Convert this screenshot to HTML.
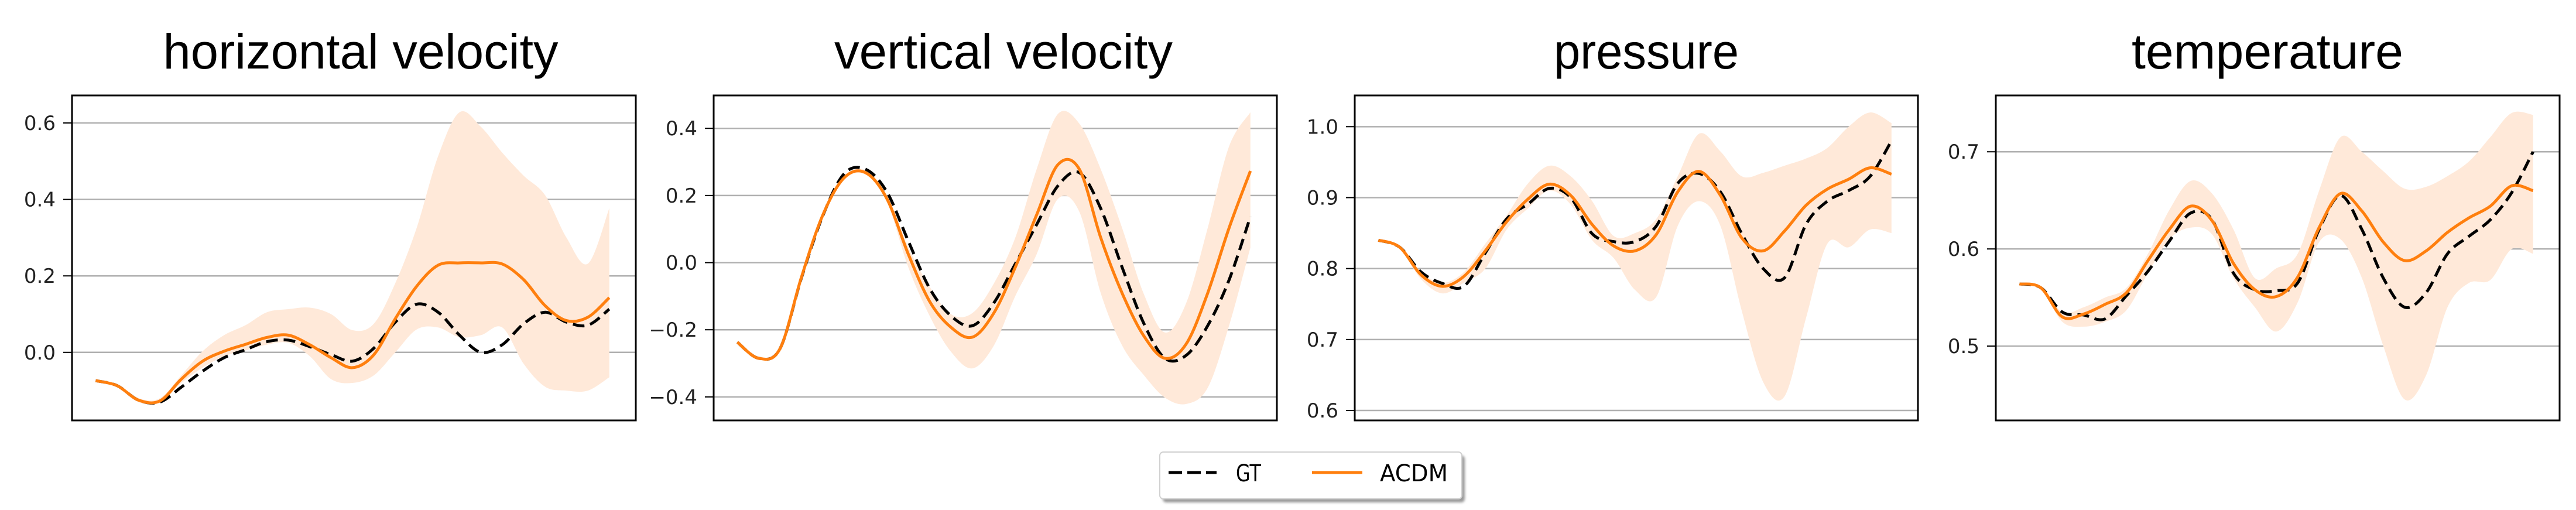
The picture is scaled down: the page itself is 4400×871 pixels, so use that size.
<!DOCTYPE html>
<html><head><meta charset="utf-8"><style>
html,body{margin:0;padding:0;background:#fff;}
svg{display:block;}
text{font-family:"DejaVu Sans","Liberation Sans",sans-serif;}
.title{font-family:"Liberation Sans",sans-serif;}
</style></head><body>
<svg id="fig" width="4400" height="871" viewBox="0 0 4400 871" xmlns="http://www.w3.org/2000/svg">
<defs><filter id="sh" x="-5%" y="-20%" width="115%" height="160%"><feGaussianBlur stdDeviation="2"/></filter></defs>
<g id="panels"></g>
<g>
<rect x="1986" y="778" width="516" height="80" rx="6" fill="#999" filter="url(#sh)"/>
<rect x="1981" y="772" width="516" height="80" rx="6" fill="#fff" stroke="#d0d0d0" stroke-width="2"/>
<line x1="1996" y1="807" x2="2078" y2="807" stroke="#000" stroke-width="5" stroke-dasharray="23 9"/>
<text x="2111" y="822" font-size="40" textLength="43" lengthAdjust="spacingAndGlyphs">GT</text>
<line x1="2241" y1="807" x2="2327" y2="807" stroke="#ff7f0e" stroke-width="5"/>
<text x="2357" y="822" font-size="40" textLength="116" lengthAdjust="spacingAndGlyphs">ACDM</text>
</g>
</svg>
<script>
const titles = ["horizontal velocity","vertical velocity","pressure","temperature"];
const hvAcdm = [-0.074,-0.087,-0.125,-0.127,-0.07,-0.023,0.003,0.021,0.039,0.045,0.02,-0.014,-0.04,-0.006,0.088,0.173,0.228,0.234,0.234,0.231,0.19,0.122,0.083,0.092,0.143];
const hvGt = [-0.074,-0.087,-0.125,-0.13,-0.091,-0.049,-0.014,0.007,0.028,0.032,0.015,-0.006,-0.023,0.011,0.079,0.126,0.105,0.045,0.0,0.02,0.075,0.105,0.079,0.071,0.113];
const hvUp = [-0.072,-0.085,-0.12,-0.12,-0.06,0.003,0.045,0.071,0.105,0.113,0.117,0.1,0.058,0.075,0.181,0.326,0.513,0.628,0.59,0.522,0.462,0.411,0.3,0.232,0.377];
const hvLo = [-0.076,-0.09,-0.13,-0.13,-0.08,-0.04,-0.01,0.005,0.02,0.025,-0.01,-0.07,-0.08,-0.06,0.0,0.06,0.065,0.04,0.045,0.065,-0.03,-0.09,-0.1,-0.1,-0.065];
const vvAcdm = [-0.237,-0.285,-0.256,-0.043,0.142,0.253,0.268,0.19,0.025,-0.116,-0.193,-0.222,-0.15,-0.014,0.142,0.292,0.278,0.074,-0.091,-0.217,-0.285,-0.242,-0.091,0.103,0.273];
const vvGt = [-0.237,-0.285,-0.256,-0.045,0.14,0.265,0.278,0.21,0.064,-0.077,-0.159,-0.188,-0.12,-0.004,0.113,0.229,0.268,0.161,-0.014,-0.179,-0.285,-0.276,-0.188,-0.052,0.137];
const vvUp = [-0.235,-0.282,-0.252,-0.04,0.146,0.258,0.275,0.2,0.045,-0.072,-0.154,-0.15,-0.062,0.074,0.278,0.443,0.414,0.278,0.103,-0.091,-0.208,-0.12,0.103,0.346,0.448];
const vvLo = [-0.24,-0.288,-0.26,-0.047,0.138,0.248,0.262,0.18,-0.014,-0.159,-0.266,-0.315,-0.247,-0.1,0.025,0.19,0.151,-0.091,-0.247,-0.334,-0.402,-0.421,-0.373,-0.188,0.045];
const prAcdm = [0.84,0.83,0.791,0.775,0.789,0.825,0.866,0.898,0.919,0.903,0.862,0.832,0.825,0.848,0.908,0.937,0.903,0.843,0.825,0.853,0.889,0.912,0.926,0.942,0.933];
const prGt = [0.84,0.83,0.795,0.779,0.775,0.822,0.87,0.891,0.913,0.9,0.849,0.838,0.838,0.86,0.92,0.934,0.908,0.849,0.8,0.787,0.862,0.895,0.91,0.93,0.98];
const prUp = [0.842,0.832,0.795,0.78,0.795,0.835,0.875,0.92,0.945,0.93,0.895,0.846,0.85,0.87,0.93,0.99,0.965,0.93,0.935,0.945,0.955,0.97,1.0,1.02,1.005];
const prLo = [0.838,0.828,0.785,0.765,0.78,0.8,0.855,0.885,0.91,0.89,0.84,0.815,0.77,0.76,0.86,0.895,0.86,0.74,0.64,0.62,0.73,0.835,0.83,0.855,0.85];
const tpAcdm = [0.564,0.56,0.53,0.533,0.543,0.555,0.588,0.62,0.644,0.629,0.585,0.558,0.551,0.571,0.622,0.657,0.639,0.607,0.588,0.598,0.617,0.632,0.644,0.665,0.66];
const tpGt = [0.564,0.56,0.535,0.532,0.528,0.552,0.577,0.608,0.637,0.63,0.575,0.558,0.557,0.565,0.62,0.655,0.62,0.57,0.54,0.555,0.595,0.613,0.63,0.658,0.7];
const tpUp = [0.565,0.561,0.535,0.54,0.55,0.56,0.595,0.64,0.67,0.657,0.62,0.57,0.58,0.595,0.66,0.715,0.7,0.68,0.662,0.664,0.675,0.69,0.715,0.74,0.738];
const tpLo = [0.563,0.559,0.525,0.52,0.525,0.537,0.575,0.61,0.622,0.615,0.57,0.54,0.515,0.545,0.607,0.61,0.57,0.5,0.445,0.47,0.54,0.565,0.568,0.6,0.595];
const ticks1 = [0.0,0.2,0.4,0.6];
const ticks2 = [-0.4,-0.2,0.0,0.2,0.4];
const ticks3 = [0.6,0.7,0.8,0.9,1.0];
const ticks4 = [0.5,0.6,0.7];
const tickLabels1 = ["0.0","0.2","0.4","0.6"];
const tickLabels2 = ["\u22120.4","\u22120.2","0.0","0.2","0.4"];
const tickLabels3 = ["0.6","0.7","0.8","0.9","1.0"];
const tickLabels4 = ["0.5","0.6","0.7"];

const NS="http://www.w3.org/2000/svg";
const layout=[
 {x0:123,x1:1086,ymin:-0.178,ymax:0.672,tx:616,tw:675,series:[hvAcdm,hvGt,hvUp,hvLo],ticks:ticks1,labels:tickLabels1,slug:"horizontal-velocity"},
 {x0:1219,x1:2181,ymin:-0.47,ymax:0.498,tx:1714,tw:578,series:[vvAcdm,vvGt,vvUp,vvLo],ticks:ticks2,labels:tickLabels2,slug:"vertical-velocity"},
 {x0:2314,x1:3276,ymin:0.586,ymax:1.044,tx:2812,tw:316,series:[prAcdm,prGt,prUp,prLo],ticks:ticks3,labels:tickLabels3,slug:"pressure"},
 {x0:3409,x1:4372,ymin:0.4235,ymax:0.758,tx:3873,tw:464,series:[tpAcdm,tpGt,tpUp,tpLo],ticks:ticks4,labels:tickLabels4,slug:"temperature"}
];
const yTop=163,yBot=718;
function mk(tag,attrs,parent){const e=document.createElementNS(NS,tag);for(const k in attrs)e.setAttribute(k,attrs[k]);parent.appendChild(e);return e;}
function smooth(pts){let d="M"+pts[0][0].toFixed(1)+","+pts[0][1].toFixed(1);
 for(let i=0;i<pts.length-1;i++){const p0=pts[i-1]||pts[i],p1=pts[i],p2=pts[i+1],p3=pts[i+2]||p2;
  const c1=[p1[0]+(p2[0]-p0[0])/6,p1[1]+(p2[1]-p0[1])/6],c2=[p2[0]-(p3[0]-p1[0])/6,p2[1]-(p3[1]-p1[1])/6];
  d+=" C"+c1[0].toFixed(1)+","+c1[1].toFixed(1)+" "+c2[0].toFixed(1)+","+c2[1].toFixed(1)+" "+p2[0].toFixed(1)+","+p2[1].toFixed(1);}
 return d;}
const root=document.getElementById("panels");
layout.forEach((L,pi)=>{
 const g=mk("g",{},root);
 
 
 const n=L.series[0].length;
 const xs=i=>L.x0+(L.x1-L.x0)*(0.042+0.911*i/(n-1));
 const ys=v=>yBot-(v-L.ymin)/(L.ymax-L.ymin)*(yBot-yTop);
 const t=mk("text",{x:L.tx,y:117,"font-size":84,"text-anchor":"middle",class:"title",textLength:L.tw,lengthAdjust:"spacingAndGlyphs"},g);
 t.textContent=titles[pi];
 
 
 L.ticks.forEach((tv,ti)=>{
  const y=ys(tv);
  const gl=mk("line",{x1:L.x0,x2:L.x1,y1:y,y2:y,stroke:"#b0b0b0","stroke-width":2.5},g);
  
  
  const tk=mk("line",{x1:L.x0-15,x2:L.x0,y1:y,y2:y,stroke:"#000","stroke-width":2},g);
  
  
  const tl=mk("text",{x:L.x0-28,y:y+12,"font-size":34,"text-anchor":"end",fill:"#222"},g);
  tl.textContent=L.labels[ti];
  
  
 });
 const [ac,gt,up,lo]=L.series;
 const upPts=up.map((v,i)=>[xs(i),ys(v)]);
 const loPts=lo.map((v,i)=>[xs(i),ys(v)]).reverse();
 let d=smooth(upPts)+" L"+loPts[0][0]+","+loPts[0][1]+smooth(loPts).slice(smooth(loPts).indexOf(" C"))+" Z";
 const band=mk("path",{d:d,fill:"#ffe9d9",stroke:"none"},g);
 
 
 const gl=mk("path",{d:smooth(gt.map((v,i)=>[xs(i),ys(v)])),fill:"none",stroke:"#000","stroke-width":5,"stroke-dasharray":"20 10"},g);
 
 
 const al=mk("path",{d:smooth(ac.map((v,i)=>[xs(i),ys(v)])),fill:"none",stroke:"#ff7f0e","stroke-width":5},g);
 
 
 const fr=mk("rect",{x:L.x0,y:yTop,width:L.x1-L.x0,height:yBot-yTop,fill:"none",stroke:"#000","stroke-width":3},g);
 
 
});
</script>
</body></html>
